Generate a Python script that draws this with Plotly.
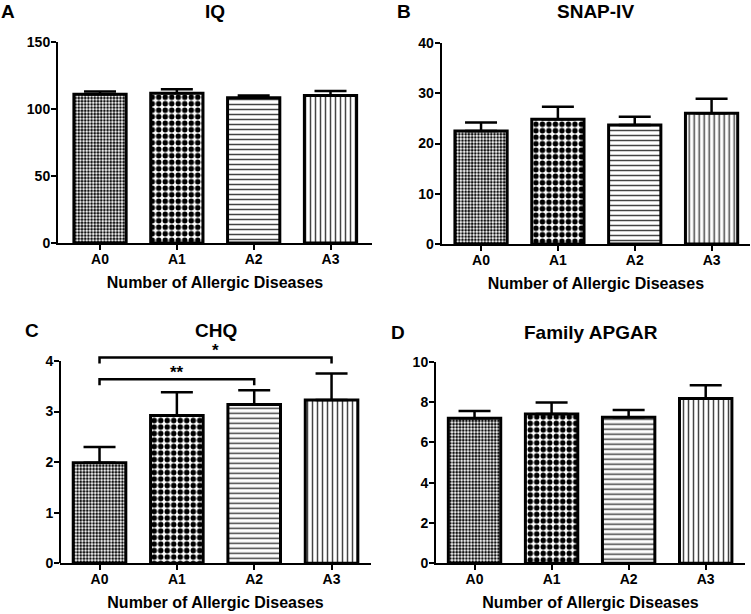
import plotly.graph_objects as go

# ---------------- data ----------------
categories = ["A0", "A1", "A2", "A3"]

iq_mean = [111.0, 111.7, 108.4, 110.0]
iq_err = [2.0, 3.0, 1.6, 3.4]

snap_mean = [22.5, 24.85, 23.7, 26.0]
snap_err = [1.7, 2.45, 1.6, 2.9]

chq_mean = [1.99, 2.92, 3.14, 3.23]
chq_err = [0.31, 0.46, 0.28, 0.52]

apgar_mean = [7.19, 7.40, 7.24, 8.18]
apgar_err = [0.36, 0.57, 0.36, 0.65]

panel_titles = ["IQ", "SNAP-IV", "CHQ", "Family APGAR"]
panel_letters = ["A", "B", "C", "D"]
x_title = "Number of Allergic Diseases"

# significance brackets for CHQ: (from index, to index, label)
chq_sig = [(0, 2, "**"), (0, 3, "*")]

# ---------------- styling / layout ----------------
FONT = "Liberation Sans, Arial, sans-serif"
W, H = 751, 614

pattern = dict(
    shape=[".", ".", "-", "|"],
    size=[3.2, 6.5, 5, 5],
    solidity=[0.55, 0.55, 0.3, 0.3],
    fgcolor=["#111111", "#000000", "#444444", "#444444"],
    bgcolor="white",
    fillmode="replace",
)

def px_x(p):
    return p / W

def px_y(p):
    return 1 - p / H

panels = [
    dict(mean=iq_mean, err=iq_err, xdom=[px_x(58), px_x(372)], xr=[-0.547, 3.54],
         ydom=[px_y(243), px_y(42)], yr=[0, 150], dtick=50, ymax=150),
    dict(mean=snap_mean, err=snap_err, xdom=[px_x(441.7), px_x(750)], xr=[-0.512, 3.50],
         ydom=[px_y(244), px_y(43)], yr=[0, 40], dtick=10, ymax=40),
    dict(mean=chq_mean, err=chq_err, xdom=[px_x(60), px_x(371)], xr=[-0.511, 3.51],
         ydom=[px_y(563.3), px_y(345.8)], yr=[0, 4.3], dtick=1, ymax=4),
    dict(mean=apgar_mean, err=apgar_err, xdom=[px_x(436), px_x(745)], xr=[-0.5, 3.51],
         ydom=[px_y(563.3), px_y(361.7)], yr=[0, 10], dtick=2, ymax=10),
]

fig = go.Figure()
shapes = []
annotations = []

title_pos = [px_y(11), px_y(11), px_y(330), px_y(332)]
letter_pos = [(px_x(8), px_y(11)), (px_x(404), px_y(11)), (px_x(32), px_y(330)), (px_x(398), px_y(332))]

for i, p in enumerate(panels):
    n = "" if i == 0 else str(i + 1)
    xa, ya = "x" + n, "y" + n
    fig.add_trace(go.Bar(
        x=categories, y=p["mean"], xaxis=xa, yaxis=ya, width=0.68,
        marker=dict(color="white", line=dict(color="black", width=3), pattern=pattern),
        error_y=dict(type="data", array=p["err"], arrayminus=[0] * len(p["err"]),
                     symmetric=False, color="black", thickness=2.5, width=16),
        showlegend=False, hoverinfo="skip",
    ))
    axkw = dict(linecolor="black", linewidth=2, ticks="outside", ticklen=5, tickwidth=2,
                tickcolor="black", showgrid=False, zeroline=False, automargin=False,
                tickfont=dict(family=FONT, size=14, color="black", weight="bold"))
    fig.update_layout(**{
        ("xaxis" + n): dict(domain=p["xdom"], range=p["xr"], anchor=ya, showline=True,
                            ticklabelstandoff=-3,
                            title=dict(text=x_title, standoff=11,
                                       font=dict(family=FONT, size=16, color="black", weight="bold")),
                            **axkw),
        ("yaxis" + n): dict(domain=p["ydom"], range=p["yr"], anchor=xa,
                            ticklabelstandoff=-2,
                            tickvals=list(range(0, p["ymax"] + 1, p["dtick"])),
                            showline=(i != 2), **axkw),
    })
    annotations.append(dict(text=panel_titles[i], xref=xa + " domain", yref="paper",
                            x=0.5, y=title_pos[i], showarrow=False, xanchor="center", yanchor="middle",
                            font=dict(family=FONT, size=19, color="black", weight="bold")))
    annotations.append(dict(text=panel_letters[i], xref="paper", yref="paper",
                            x=letter_pos[i][0], y=letter_pos[i][1], showarrow=False,
                            xanchor="center", yanchor="middle",
                            font=dict(family=FONT, size=19, color="black", weight="bold")))

# y-axis line for CHQ panel, ending at the top tick (range extended for brackets)
shapes.append(dict(type="line", xref="x3 domain", yref="y3", x0=0, x1=0, y0=0, y1=4,
                   line=dict(color="black", width=2)))

# significance brackets
bracket_levels = [3.64, 4.07]
leg = 0.12
for (a, b, lab), lvl in zip(chq_sig, bracket_levels):
    shapes.append(dict(type="path", xref="x3", yref="y3",
                       path=f"M {a},{lvl - leg} L {a},{lvl} L {b},{lvl} L {b},{lvl - leg}",
                       line=dict(color="black", width=2.5)))
    annotations.append(dict(text=lab, xref="x3", yref="y3", x=(a + b) / 2, y=lvl,
                            showarrow=False, xanchor="center", yanchor="bottom", yshift=-5,
                            font=dict(family=FONT, size=17, color="black", weight="bold")))

fig.update_layout(
    width=W, height=H, margin=dict(l=0, r=0, t=0, b=0, autoexpand=False),
    paper_bgcolor="white", plot_bgcolor="white",
    font=dict(family=FONT, color="black"),
    shapes=shapes, annotations=annotations, bargap=0.32,
)

fig.write_html("out.html", config={"displayModeBar": False},
               post_script="document.body.style.margin='0';document.body.style.overflow='hidden';")
